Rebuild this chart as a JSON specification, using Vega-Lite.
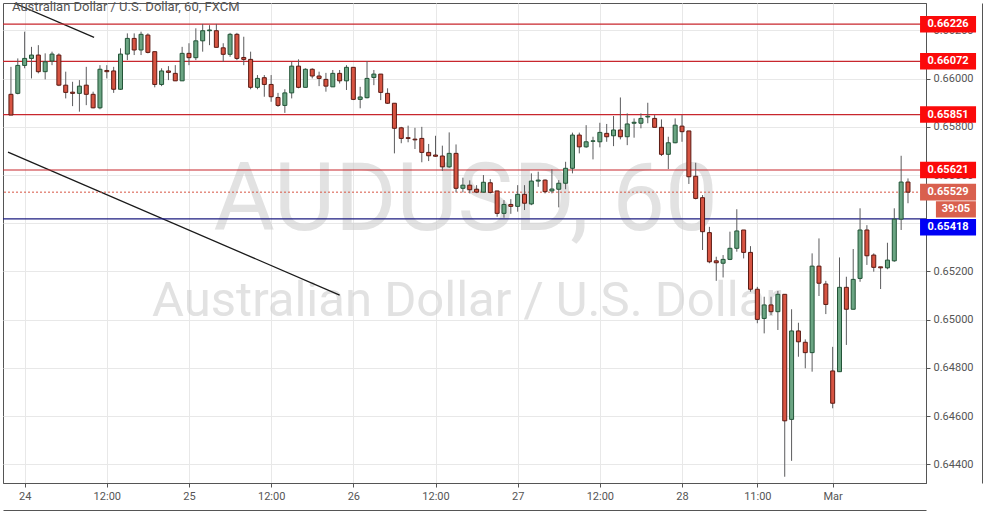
{
  "$schema": "https://vega.github.io/schema/vega-lite/v6.json",
  "width": 923,
  "height": 480,
  "autosize": "none",
  "padding": {"left": 3, "top": 3, "right": 62, "bottom": 30},
  "background": "white",
  "config": {"view": {"stroke": "#555555", "strokeWidth": 1}, "font": "Roboto"},
  "title": {"text": "Australian Dollar / U.S. Dollar, 60, FXCM", "anchor": "start", "frame": "group", "offset": -21, "dx": 9, "baseline": "alphabetic", "font": "Roboto", "fontSize": 13, "fontWeight": "normal", "color": "#555555"},
  "datasets": {
    "candles": [
      {"i":0,"o":0.65935,"h":0.66049,"l":0.65849,"c":0.65849},
      {"i":1,"o":0.65939,"h":0.66084,"l":0.65935,"c":0.66055},
      {"i":2,"o":0.66055,"h":0.66195,"l":0.66043,"c":0.66084},
      {"i":3,"o":0.66084,"h":0.66132,"l":0.66001,"c":0.66098},
      {"i":4,"o":0.66098,"h":0.66139,"l":0.66022,"c":0.66029},
      {"i":5,"o":0.66029,"h":0.66105,"l":0.65997,"c":0.66070},
      {"i":6,"o":0.66073,"h":0.66112,"l":0.66056,"c":0.66102},
      {"i":7,"o":0.66098,"h":0.66105,"l":0.65969,"c":0.65973},
      {"i":8,"o":0.65973,"h":0.66029,"l":0.65918,"c":0.65943},
      {"i":9,"o":0.65944,"h":0.65987,"l":0.65886,"c":0.65939},
      {"i":10,"o":0.65939,"h":0.65994,"l":0.65863,"c":0.65969},
      {"i":11,"o":0.65973,"h":0.66049,"l":0.65890,"c":0.65935},
      {"i":12,"o":0.65935,"h":0.65946,"l":0.65877,"c":0.65879},
      {"i":13,"o":0.65879,"h":0.66056,"l":0.65873,"c":0.66039},
      {"i":14,"o":0.66034,"h":0.66056,"l":0.66001,"c":0.66029},
      {"i":15,"o":0.66032,"h":0.66049,"l":0.65941,"c":0.65956},
      {"i":16,"o":0.65956,"h":0.66126,"l":0.65953,"c":0.66102},
      {"i":17,"o":0.66102,"h":0.66188,"l":0.66077,"c":0.66167},
      {"i":18,"o":0.66167,"h":0.66188,"l":0.66098,"c":0.66119},
      {"i":19,"o":0.66119,"h":0.66195,"l":0.66098,"c":0.66184},
      {"i":20,"o":0.66181,"h":0.66188,"l":0.66105,"c":0.66109},
      {"i":21,"o":0.66112,"h":0.66112,"l":0.65964,"c":0.65976},
      {"i":22,"o":0.65976,"h":0.66043,"l":0.65969,"c":0.66032},
      {"i":23,"o":0.66032,"h":0.66052,"l":0.65994,"c":0.66026},
      {"i":24,"o":0.66022,"h":0.66056,"l":0.65991,"c":0.65991},
      {"i":25,"o":0.65991,"h":0.66132,"l":0.65991,"c":0.66105},
      {"i":26,"o":0.66105,"h":0.66147,"l":0.66056,"c":0.66087},
      {"i":27,"o":0.66087,"h":0.66209,"l":0.66077,"c":0.66157},
      {"i":28,"o":0.66157,"h":0.66227,"l":0.66112,"c":0.66199},
      {"i":29,"o":0.66199,"h":0.66222,"l":0.66139,"c":0.66202},
      {"i":30,"o":0.66199,"h":0.66227,"l":0.66130,"c":0.66130},
      {"i":31,"o":0.66128,"h":0.66147,"l":0.66070,"c":0.66101},
      {"i":32,"o":0.66101,"h":0.66190,"l":0.66091,"c":0.66184},
      {"i":33,"o":0.66184,"h":0.66190,"l":0.66077,"c":0.66084},
      {"i":34,"o":0.66088,"h":0.66174,"l":0.66056,"c":0.66080},
      {"i":35,"o":0.66080,"h":0.66112,"l":0.65956,"c":0.65964},
      {"i":36,"o":0.65964,"h":0.66015,"l":0.65956,"c":0.66001},
      {"i":37,"o":0.66004,"h":0.66015,"l":0.65925,"c":0.65976},
      {"i":38,"o":0.65976,"h":0.66015,"l":0.65904,"c":0.65925},
      {"i":39,"o":0.65922,"h":0.65941,"l":0.65883,"c":0.65889},
      {"i":40,"o":0.65889,"h":0.65956,"l":0.65858,"c":0.65941},
      {"i":41,"o":0.65941,"h":0.66070,"l":0.65918,"c":0.66052},
      {"i":42,"o":0.66052,"h":0.66080,"l":0.65960,"c":0.65964},
      {"i":43,"o":0.65964,"h":0.66043,"l":0.65964,"c":0.66039},
      {"i":44,"o":0.66039,"h":0.66043,"l":0.66001,"c":0.66011},
      {"i":45,"o":0.66011,"h":0.66029,"l":0.65969,"c":0.66001},
      {"i":46,"o":0.65997,"h":0.66024,"l":0.65946,"c":0.65969},
      {"i":47,"o":0.65966,"h":0.66036,"l":0.65966,"c":0.66022},
      {"i":48,"o":0.66022,"h":0.66036,"l":0.65980,"c":0.65991},
      {"i":49,"o":0.65991,"h":0.66056,"l":0.65953,"c":0.66047},
      {"i":50,"o":0.66047,"h":0.66047,"l":0.65911,"c":0.65914},
      {"i":51,"o":0.65914,"h":0.65966,"l":0.65877,"c":0.65924},
      {"i":52,"o":0.65921,"h":0.66073,"l":0.65918,"c":0.66001},
      {"i":53,"o":0.66005,"h":0.66036,"l":0.65973,"c":0.66019},
      {"i":54,"o":0.66019,"h":0.66019,"l":0.65911,"c":0.65943},
      {"i":55,"o":0.65939,"h":0.65960,"l":0.65895,"c":0.65898},
      {"i":56,"o":0.65898,"h":0.65898,"l":0.65690,"c":0.65794},
      {"i":57,"o":0.65796,"h":0.65800,"l":0.65732,"c":0.65752},
      {"i":58,"o":0.65755,"h":0.65805,"l":0.65736,"c":0.65752},
      {"i":59,"o":0.65749,"h":0.65796,"l":0.65708,"c":0.65746},
      {"i":60,"o":0.65752,"h":0.65800,"l":0.65653,"c":0.65694},
      {"i":61,"o":0.65694,"h":0.65729,"l":0.65658,"c":0.65680},
      {"i":62,"o":0.65683,"h":0.65763,"l":0.65676,"c":0.65678},
      {"i":63,"o":0.65679,"h":0.65722,"l":0.65617,"c":0.65634},
      {"i":64,"o":0.65634,"h":0.65777,"l":0.65630,"c":0.65690},
      {"i":65,"o":0.65690,"h":0.65727,"l":0.65528,"c":0.65545},
      {"i":66,"o":0.65545,"h":0.65589,"l":0.65528,"c":0.65558},
      {"i":67,"o":0.65558,"h":0.65578,"l":0.65524,"c":0.65539},
      {"i":68,"o":0.65541,"h":0.65558,"l":0.65525,"c":0.65529},
      {"i":69,"o":0.65529,"h":0.65600,"l":0.65527,"c":0.65570},
      {"i":70,"o":0.65568,"h":0.65583,"l":0.65524,"c":0.65528},
      {"i":71,"o":0.65534,"h":0.65534,"l":0.65427,"c":0.65441},
      {"i":72,"o":0.65441,"h":0.65496,"l":0.65423,"c":0.65478},
      {"i":73,"o":0.65478,"h":0.65500,"l":0.65439,"c":0.65470},
      {"i":74,"o":0.65470,"h":0.65558,"l":0.65448,"c":0.65520},
      {"i":75,"o":0.65520,"h":0.65558,"l":0.65455,"c":0.65483},
      {"i":76,"o":0.65480,"h":0.65607,"l":0.65475,"c":0.65575},
      {"i":77,"o":0.65575,"h":0.65614,"l":0.65551,"c":0.65579},
      {"i":78,"o":0.65579,"h":0.65582,"l":0.65524,"c":0.65531},
      {"i":79,"o":0.65534,"h":0.65624,"l":0.65524,"c":0.65542},
      {"i":80,"o":0.65541,"h":0.65579,"l":0.65466,"c":0.65566},
      {"i":81,"o":0.65566,"h":0.65655,"l":0.65541,"c":0.65628},
      {"i":82,"o":0.65628,"h":0.65776,"l":0.65607,"c":0.65766},
      {"i":83,"o":0.65766,"h":0.65776,"l":0.65690,"c":0.65717},
      {"i":84,"o":0.65717,"h":0.65807,"l":0.65713,"c":0.65738},
      {"i":85,"o":0.65740,"h":0.65759,"l":0.65665,"c":0.65742},
      {"i":86,"o":0.65738,"h":0.65817,"l":0.65715,"c":0.65777},
      {"i":87,"o":0.65773,"h":0.65812,"l":0.65738,"c":0.65759},
      {"i":88,"o":0.65763,"h":0.65845,"l":0.65720,"c":0.65787},
      {"i":89,"o":0.65787,"h":0.65922,"l":0.65748,"c":0.65759},
      {"i":90,"o":0.65759,"h":0.65856,"l":0.65724,"c":0.65812},
      {"i":91,"o":0.65815,"h":0.65835,"l":0.65755,"c":0.65819},
      {"i":92,"o":0.65815,"h":0.65856,"l":0.65794,"c":0.65835},
      {"i":93,"o":0.65841,"h":0.65900,"l":0.65815,"c":0.65844},
      {"i":94,"o":0.65835,"h":0.65849,"l":0.65798,"c":0.65798},
      {"i":95,"o":0.65798,"h":0.65831,"l":0.65679,"c":0.65686},
      {"i":96,"o":0.65686,"h":0.65759,"l":0.65625,"c":0.65734},
      {"i":97,"o":0.65734,"h":0.65835,"l":0.65732,"c":0.65807},
      {"i":98,"o":0.65803,"h":0.65849,"l":0.65738,"c":0.65780},
      {"i":99,"o":0.65783,"h":0.65783,"l":0.65563,"c":0.65593},
      {"i":100,"o":0.65595,"h":0.65651,"l":0.65499,"c":0.65503},
      {"i":101,"o":0.65506,"h":0.65517,"l":0.65289,"c":0.65365},
      {"i":102,"o":0.65361,"h":0.65385,"l":0.65234,"c":0.65240},
      {"i":103,"o":0.65244,"h":0.65261,"l":0.65161,"c":0.65236},
      {"i":104,"o":0.65234,"h":0.65268,"l":0.65175,"c":0.65250},
      {"i":105,"o":0.65250,"h":0.65365,"l":0.65247,"c":0.65296},
      {"i":106,"o":0.65296,"h":0.65458,"l":0.65282,"c":0.65368},
      {"i":107,"o":0.65372,"h":0.65372,"l":0.65254,"c":0.65279},
      {"i":108,"o":0.65279,"h":0.65305,"l":0.65116,"c":0.65126},
      {"i":109,"o":0.65126,"h":0.65136,"l":0.64985,"c":0.65001},
      {"i":110,"o":0.65005,"h":0.65095,"l":0.64943,"c":0.65061},
      {"i":111,"o":0.65061,"h":0.65095,"l":0.65019,"c":0.65033},
      {"i":112,"o":0.65033,"h":0.65119,"l":0.64957,"c":0.65105},
      {"i":113,"o":0.65105,"h":0.65105,"l":0.64348,"c":0.64580},
      {"i":114,"o":0.64586,"h":0.65043,"l":0.64414,"c":0.64953},
      {"i":115,"o":0.64953,"h":0.64987,"l":0.64846,"c":0.64908},
      {"i":116,"o":0.64906,"h":0.64918,"l":0.64798,"c":0.64863},
      {"i":117,"o":0.64863,"h":0.65275,"l":0.64784,"c":0.65222},
      {"i":118,"o":0.65222,"h":0.65337,"l":0.65098,"c":0.65151},
      {"i":119,"o":0.65148,"h":0.65161,"l":0.65023,"c":0.65063},
      {"i":120,"o":0.64787,"h":0.64887,"l":0.64632,"c":0.64653},
      {"i":121,"o":0.64784,"h":0.65258,"l":0.64784,"c":0.65134},
      {"i":122,"o":0.65134,"h":0.65178,"l":0.64895,"c":0.65043},
      {"i":123,"o":0.65043,"h":0.65293,"l":0.65043,"c":0.65167},
      {"i":124,"o":0.65171,"h":0.65462,"l":0.65157,"c":0.65372},
      {"i":125,"o":0.65372,"h":0.65392,"l":0.65227,"c":0.65265},
      {"i":126,"o":0.65268,"h":0.65275,"l":0.65199,"c":0.65217},
      {"i":127,"o":0.65219,"h":0.65219,"l":0.65127,"c":0.65215},
      {"i":128,"o":0.65215,"h":0.65319,"l":0.65209,"c":0.65247},
      {"i":129,"o":0.65244,"h":0.65462,"l":0.65240,"c":0.65417},
      {"i":130,"o":0.65417,"h":0.65680,"l":0.65372,"c":0.65571},
      {"i":131,"o":0.65571,"h":0.65586,"l":0.65483,"c":0.65529}
    ],
    "levels": [
      {"level":0.66226,"kind":"res"},
      {"level":0.66072,"kind":"res"},
      {"level":0.65851,"kind":"res"},
      {"level":0.65621,"kind":"res"},
      {"level":0.65418,"kind":"sup"},
      {"level":0.65529,"kind":"price"}
    ],
    "timer": [{"level":0.65529,"txt":"39:05"}],
    "trends": [
      {"g":1,"i":0.5,"p":0.66313},
      {"g":1,"i":12.14,"p":0.66171},
      {"g":2,"i":-0.43,"p":0.65695},
      {"g":2,"i":48.0,"p":0.65102}
    ],
    "watermark": [{"big":"AUDUSD, 60","small":"Australian Dollar / U.S. Dollar"}]
  },
  "resolve": {"axis": {"x": "independent", "y": "independent"}},
  "layer": [
    {
      "data": {"name": "watermark"},
      "mark": {"type": "text", "font": "Roboto", "fontSize": 94, "fill": "#cfcfcf", "opacity": 0.6, "align": "center", "baseline": "alphabetic"},
      "encoding": {
        "x": {"datum": 66.4, "type": "quantitative", "scale": {"domain": [-0.43, 132.9], "nice": false, "zero": false}, "axis": null},
        "y": {"datum": 0.65372, "type": "quantitative", "scale": {"domain": [0.64322, 0.66314], "nice": false, "zero": false}, "axis": null},
        "text": {"field": "big"}
      }
    },
    {
      "data": {"name": "watermark"},
      "mark": {"type": "text", "font": "Roboto", "fontSize": 49, "fill": "#cfcfcf", "opacity": 0.6, "align": "center", "baseline": "alphabetic"},
      "encoding": {
        "x": {"datum": 66.6, "type": "quantitative", "scale": {"domain": [-0.43, 132.9], "nice": false, "zero": false}, "axis": null},
        "y": {"datum": 0.65016, "type": "quantitative", "scale": {"domain": [0.64322, 0.66314], "nice": false, "zero": false}, "axis": null},
        "text": {"field": "small"}
      }
    },
    {
      "data": {"name": "trends"},
      "mark": {"type": "line", "color": "#1a1a1a", "strokeWidth": 1.3, "clip": true},
      "encoding": {
        "x": {"field": "i", "type": "quantitative", "scale": {"domain": [-0.43, 132.9], "nice": false, "zero": false}, "axis": null},
        "y": {"field": "p", "type": "quantitative", "scale": {"domain": [0.64322, 0.66314], "nice": false, "zero": false}, "axis": null},
        "detail": {"field": "g"}
      }
    },
    {
      "data": {"name": "levels"},
      "transform": [{"filter": "datum.kind == 'res'"}],
      "mark": {"type": "rule", "color": "#c8262d", "strokeWidth": 1.2},
      "encoding": {
        "y": {"field": "level", "type": "quantitative", "scale": {"domain": [0.64322, 0.66314], "nice": false, "zero": false}, "axis": null}
      }
    },
    {
      "data": {"name": "levels"},
      "transform": [{"filter": "datum.kind == 'sup'"}],
      "mark": {"type": "rule", "color": "#1c1c80", "strokeWidth": 1.3},
      "encoding": {
        "y": {"field": "level", "type": "quantitative", "scale": {"domain": [0.64322, 0.66314], "nice": false, "zero": false}, "axis": null}
      }
    },
    {
      "data": {"name": "levels"},
      "transform": [{"filter": "datum.kind == 'price'"}],
      "mark": {"type": "rule", "color": "#d75442", "strokeWidth": 1, "strokeDash": [2, 2]},
      "encoding": {
        "y": {"field": "level", "type": "quantitative", "scale": {"domain": [0.64322, 0.66314], "nice": false, "zero": false}, "axis": null}
      }
    },
    {
      "data": {"name": "candles"},
      "mark": {"type": "rule", "color": "#5c5c5e", "strokeWidth": 1},
      "encoding": {
        "x": {"field": "i", "type": "quantitative", "scale": {"domain": [-0.43, 132.9], "nice": false, "zero": false},
              "axis": {"values": [2, 14, 26, 38, 50, 62, 74, 86, 98, 109, 120],
                       "labelExpr": "['24','12:00','25','12:00','26','12:00','27','12:00','28','11:00','Mar'][indexof([2,14,26,38,50,62,74,86,98,109,120], datum.value)]",
                       "grid": true, "gridColor": "#e8e8e8", "domainColor": "#555555", "tickColor": "#555555", "tickSize": 4,
                       "labelColor": "#555555", "labelFont": "Roboto", "labelFontSize": 11, "labelPadding": 3, "labelFlush": false, "title": null}},
        "y": {"field": "l", "type": "quantitative", "scale": {"domain": [0.64322, 0.66314], "nice": false, "zero": false},
              "axis": {"orient": "right", "values": [0.644, 0.646, 0.648, 0.65, 0.652, 0.654, 0.656, 0.658, 0.66, 0.662],
                       "format": ".5f", "grid": true, "gridColor": "#e8e8e8", "domainColor": "#555555", "tickColor": "#555555", "tickSize": 4,
                       "labelColor": "#555555", "labelFont": "Roboto", "labelFontSize": 11, "labelPadding": 3, "title": null}},
        "y2": {"field": "h"}
      }
    },
    {
      "data": {"name": "candles"},
      "mark": {"type": "bar", "size": 4, "strokeWidth": 1},
      "encoding": {
        "x": {"field": "i", "type": "quantitative", "scale": {"domain": [-0.43, 132.9], "nice": false, "zero": false},
              "axis": {"orient": "bottom", "offset": 27, "labels": false, "ticks": false, "grid": false, "domainColor": "#555555", "title": null}},
        "y": {"field": "o", "type": "quantitative", "scale": {"domain": [0.64322, 0.66314], "nice": false, "zero": false},
              "axis": {"orient": "right", "offset": 56, "labels": false, "ticks": false, "grid": false, "domainColor": "#555555", "title": null}},
        "y2": {"field": "c"},
        "fill": {"condition": {"test": "datum.c >= datum.o", "value": "#6ba583"}, "value": "#d75442"},
        "stroke": {"condition": {"test": "datum.c >= datum.o", "value": "#225437"}, "value": "#5b1a13"}
      }
    },
    {
      "data": {"name": "levels"},
      "transform": [{"filter": "datum.kind != 'sup'"}],
      "mark": {"type": "tick", "orient": "horizontal", "size": 56, "thickness": 16.6, "opacity": 1},
      "encoding": {
        "x": {"datum": 136.85, "type": "quantitative", "scale": {"domain": [-0.43, 132.9], "nice": false, "zero": false}, "axis": null},
        "y": {"field": "level", "type": "quantitative", "scale": {"domain": [0.64322, 0.66314], "nice": false, "zero": false}, "axis": null},
        "color": {"condition": {"test": "datum.kind == 'price'", "value": "#d9604e"}, "value": "#fb0a0a"}
      }
    },
    {
      "data": {"name": "levels"},
      "transform": [{"filter": "datum.kind == 'sup'"}],
      "mark": {"type": "tick", "orient": "horizontal", "size": 56, "thickness": 16.6, "opacity": 1, "yOffset": 8.4, "color": "#0000f5"},
      "encoding": {
        "x": {"datum": 136.85, "type": "quantitative", "scale": {"domain": [-0.43, 132.9], "nice": false, "zero": false}, "axis": null},
        "y": {"field": "level", "type": "quantitative", "scale": {"domain": [0.64322, 0.66314], "nice": false, "zero": false}, "axis": null}
      }
    },
    {
      "data": {"name": "timer"},
      "mark": {"type": "tick", "orient": "horizontal", "size": 40, "thickness": 16.4, "opacity": 1, "yOffset": 17.2, "color": "#d9604e"},
      "encoding": {
        "x": {"datum": 138.0, "type": "quantitative", "scale": {"domain": [-0.43, 132.9], "nice": false, "zero": false}, "axis": null},
        "y": {"field": "level", "type": "quantitative", "scale": {"domain": [0.64322, 0.66314], "nice": false, "zero": false}, "axis": null}
      }
    },
    {
      "data": {"name": "levels"},
      "transform": [{"filter": "datum.kind != 'sup'"}],
      "mark": {"type": "text", "font": "Roboto", "fontSize": 11, "fontWeight": "bold", "fill": "white", "align": "center", "baseline": "middle"},
      "encoding": {
        "x": {"datum": 136.85, "type": "quantitative", "scale": {"domain": [-0.43, 132.9], "nice": false, "zero": false}, "axis": null},
        "y": {"field": "level", "type": "quantitative", "scale": {"domain": [0.64322, 0.66314], "nice": false, "zero": false}, "axis": null},
        "text": {"field": "level", "type": "quantitative", "format": ".5f"}
      }
    },
    {
      "data": {"name": "levels"},
      "transform": [{"filter": "datum.kind == 'sup'"}],
      "mark": {"type": "text", "font": "Roboto", "fontSize": 11, "fontWeight": "bold", "fill": "white", "align": "center", "baseline": "middle", "yOffset": 8.4},
      "encoding": {
        "x": {"datum": 136.85, "type": "quantitative", "scale": {"domain": [-0.43, 132.9], "nice": false, "zero": false}, "axis": null},
        "y": {"field": "level", "type": "quantitative", "scale": {"domain": [0.64322, 0.66314], "nice": false, "zero": false}, "axis": null},
        "text": {"field": "level", "type": "quantitative", "format": ".5f"}
      }
    },
    {
      "data": {"name": "timer"},
      "mark": {"type": "text", "font": "Roboto", "fontSize": 11, "fontWeight": "bold", "fill": "white", "align": "center", "baseline": "middle", "yOffset": 17.2},
      "encoding": {
        "x": {"datum": 138.0, "type": "quantitative", "scale": {"domain": [-0.43, 132.9], "nice": false, "zero": false}, "axis": null},
        "y": {"field": "level", "type": "quantitative", "scale": {"domain": [0.64322, 0.66314], "nice": false, "zero": false}, "axis": null},
        "text": {"field": "txt"}
      }
    }
  ]
}
